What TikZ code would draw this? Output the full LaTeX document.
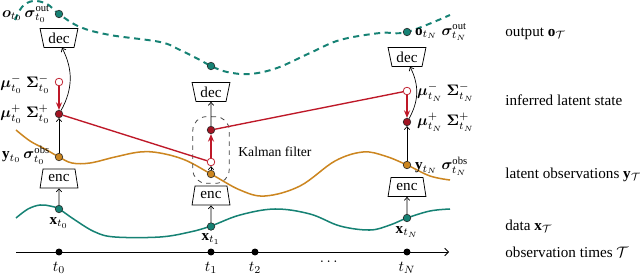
\documentclass[tikz,border=0pt]{standalone}
\usepackage{amsmath}
\usepackage{bm}
\usepackage{fontspec}
\setmainfont{Liberation Serif}
\usetikzlibrary{shapes.geometric,arrows.meta}
\definecolor{tealc}{RGB}{22,130,116}
\definecolor{ochre}{RGB}{204,134,32}
\definecolor{redc}{RGB}{190,24,40}
\tikzset{
  dotbase/.style={circle, draw=black!85, line width=0.4pt, minimum size=5pt, inner sep=0pt},
  tealdot/.style={dotbase, fill=tealc},
  ochdot/.style={dotbase, fill=ochre},
  reddot/.style={dotbase, fill=redc!85!black},
  opendot/.style={circle, draw=redc, line width=0.5pt, fill=white, minimum size=5pt, inner sep=0pt},
  tdot/.style={circle, fill=black, minimum size=4.6pt, inner sep=0pt},
  codebox/.style={trapezium, draw, line width=0.5pt, trapezium left angle=74, trapezium right angle=74,
     trapezium stretches body, minimum width=25pt, minimum height=12.5pt, inner xsep=2pt, inner ysep=1pt},
  encbox/.style={codebox},
  decbox/.style={codebox, shape border rotate=180},
  blk/.style={line width=0.45pt, -{Straight Barb[length=2pt,width=3.5pt]}},
  redarr/.style={draw=redc, line width=1pt, -{Stealth[length=5pt,width=4pt]}},
  redln/.style={draw=redc, line width=0.9pt},
  curve/.style={line width=1pt, smooth, tension=0.6},
  lbl/.style={inner sep=0.5pt},
}
\begin{document}
\begin{tikzpicture}[x=0.66pt,y=-0.66pt]
\useasboundingbox (0,0) rectangle (640,275);
% curves
\draw[curve, tealc, line width=1.3pt, dash pattern=on 4pt off 3pt] plot coordinates {(15,20) (22,7) (33,1) (47,4) (59,14) (80,27) (110,35) (160,42) (180,50) (200,60) (211,66) (227,72) (250,74) (277,68) (310,53) (340,40) (380,33) (407,32) (450,15)};
\draw[curve, ochre] plot coordinates {(16,130) (30,141) (45,149) (59,157) (72,163) (90,163) (115,157) (140,152) (160,153) (185,160) (211,174) (240,190) (265,196) (300,186) (335,161) (363,152) (385,156) (407,165) (430,176) (450,180)};
\draw[curve, tealc] plot coordinates {(16,218) (28,209) (40,205) (50,206) (59,209) (75,220) (95,232) (115,237) (160,237) (190,232) (211,226) (240,215) (275,209) (310,214) (340,226) (370,230) (390,225) (407,218) (430,211) (450,209)};
% axis
\coordinate (axs) at (16,252);
\coordinate (axe) at (449,252);
\draw[line width=0.5pt, -{Straight Barb[length=2.5pt,width=5pt]}] (axs) -- (axe);
\node[tdot] (a0) at (59,252) {};
\node[tdot] (a1) at (211,252) {};
\node[tdot] (a2) at (255,252) {};
\node[tdot] (aN) at (407,252) {};
\node (la0) at (59,268) {$t_0$};
\node (la1) at (211,268) {$t_1$};
\node (la2) at (255,268) {$t_2$};
\node (laN) at (407,268) {$t_N$};
\node (ldots) at (330,262) {$\cdots$};
% Kalman box
\node[draw=black!75, dashed, line width=0.5pt, rounded corners=9pt, minimum width=24pt, minimum height=44pt] (kf) at (211,150) {};
\node[anchor=west, font=\small] (kft) at (233,152) {Kalman filter};
% column t0
\node[tealdot] (o0) at (59,14) {};
\node[decbox] (dec0) at (59,38) {dec};
\node[opendot] (m0m) at (59,82) {};
\node[reddot] (m0p) at (59,114) {};
\node[ochdot] (y0) at (59,157) {};
\node[encbox] (enc0) at (59,178.5) {enc};
\node[tealdot] (x0) at (59,209) {};
% column t1
\node[tealdot] (o1) at (211,66) {};
\node[decbox] (dec1) at (211,92) {dec};
\node[reddot] (m1p) at (211,130) {};
\node[opendot] (m1m) at (211,162) {};
\node[ochdot] (y1) at (211,174) {};
\node[encbox] (enc1) at (211,195.5) {enc};
\node[tealdot] (x1) at (211,226.5) {};
% column tN
\node[tealdot] (oN) at (407,32) {};
\node[decbox] (decN) at (407,57) {dec};
\node[opendot] (mNm) at (407,91) {};
\node[reddot] (mNp) at (407,122) {};
\node[ochdot] (yN) at (407,165) {};
\node[encbox] (encN) at (407,187) {enc};
\node[tealdot] (xN) at (407,218) {};
% connectors
\draw[blk] (x0) -- (enc0);
\draw[blk] (y0) -- (m0p);
\draw[redarr] (m0m) -- (m0p);
\draw[blk] (m0p) to[bend right=28] ([xshift=2pt]dec0.south);
\draw[redln] (m0p) -- (m1m);
\draw[blk] (x1) -- (enc1);
\draw[blk] (y1) -- (m1m);
\draw[redarr] (m1m) -- (m1p);
\draw[blk] (m1p) -- (dec1);
\draw[redln] (m1p) -- (mNm);
\draw[blk] (xN) -- (encN);
\draw[blk] (yN) -- (mNp);
\draw[redarr] (mNm) -- (mNp);
\draw[blk] (mNp) to[bend right=28] ([xshift=2pt]decN.south);
% labels t0
\node[lbl, anchor=east] (lo0) at (51,14) {$\bm{o}_{t_0}\,\bm{\sigma}^{\mathrm{out}}_{t_0}$};
\node[lbl, anchor=east] (lm0m) at (51,84) {$\bm{\mu}^{-}_{t_0}\ \bm{\Sigma}^{-}_{t_0}$};
\node[lbl, anchor=east] (lm0p) at (51,114) {$\bm{\mu}^{+}_{t_0}\ \bm{\Sigma}^{+}_{t_0}$};
\node[lbl, anchor=east] (ly0) at (51,155) {$\mathbf{y}_{t_0}\,\bm{\sigma}^{\mathrm{obs}}_{t_0}$};
\node[lbl] (lx0) at (59,223) {$\mathbf{x}_{t_0}$};
\node[lbl] (lx1) at (211,239) {$\mathbf{x}_{t_1}$};
\node[lbl] (lxN) at (407,232) {$\mathbf{x}_{t_N}$};
% labels tN
\node[lbl, anchor=west] (loN) at (414,32) {$\mathbf{o}_{t_N}\ \bm{\sigma}^{\mathrm{out}}_{t_N}$};
\node[lbl, anchor=west] (lmNm) at (416,92) {$\bm{\mu}^{-}_{t_N}\ \bm{\Sigma}^{-}_{t_N}$};
\node[lbl, anchor=west] (lmNp) at (416,122) {$\bm{\mu}^{+}_{t_N}\ \bm{\Sigma}^{+}_{t_N}$};
\node[lbl, anchor=west] (lyN) at (414,166) {$\mathbf{y}_{t_N}\ \bm{\sigma}^{\mathrm{obs}}_{t_N}$};
% legend
\node[anchor=west] (r1) at (500,34) {output $\mathbf{o}_{\mathcal{T}}$};
\node[anchor=west] (r2) at (500,100) {inferred latent state};
\node[anchor=west] (r3) at (500,175) {latent observations $\mathbf{y}_{\mathcal{T}}$};
\node[anchor=west] (r4) at (500,226) {data $\mathbf{x}_{\mathcal{T}}$};
\node[anchor=west] (r5) at (500,252) {observation times $\mathcal{T}$};
\end{tikzpicture}
\end{document}
